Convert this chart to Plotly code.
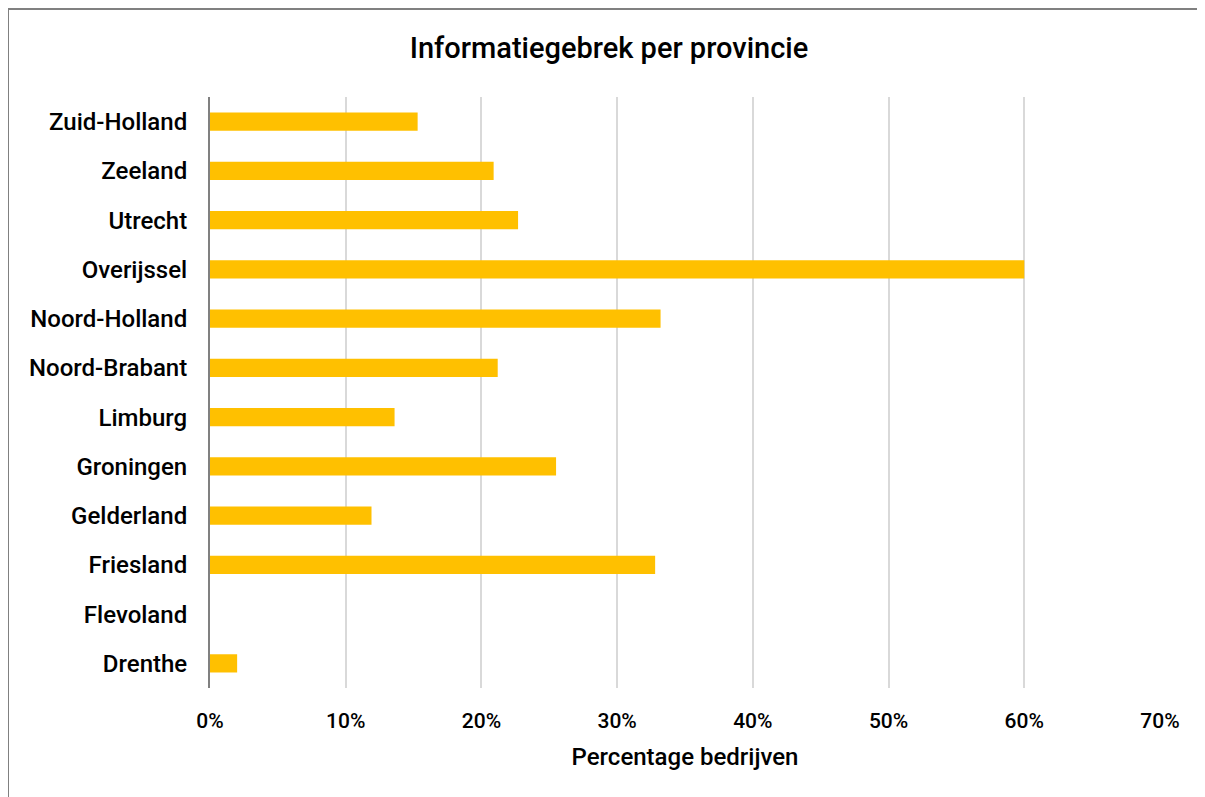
import plotly.graph_objects as go

provinces = ["Drenthe", "Flevoland", "Friesland", "Gelderland", "Groningen", "Limburg",
             "Noord-Brabant", "Noord-Holland", "Overijssel", "Utrecht", "Zeeland", "Zuid-Holland"]
percentages = [0.020, 0.0, 0.328, 0.119, 0.255, 0.136, 0.212, 0.332, 0.600, 0.227, 0.209, 0.153]
tick_vals = [0, 0.1, 0.2, 0.3, 0.4, 0.5, 0.6, 0.7]
tick_text = ["0%", "10%", "20%", "30%", "40%", "50%", "60%", "70%"]

W, H = 1205, 797
# page body has an 8px offset, so margins are set relative to that
L, R, T, B = 202, 53, 89, 117
FONT = "Roboto"

fig = go.Figure(go.Bar(
    y=provinces, x=percentages, orientation="h",
    marker=dict(color="#FFC000", line=dict(width=0)),
    width=0.37,
))

fig.update_layout(
    width=W, height=H,
    margin=dict(l=L, r=R, t=T, b=B, pad=0),
    paper_bgcolor="white", plot_bgcolor="white",
    font=dict(family=FONT, color="#000000", size=22, weight=500),
    title=dict(text="Informatiegebrek per provincie", x=(609 - 8) / W, xanchor="center",
               y=1 - 40 / H, yanchor="middle",
               font=dict(family=FONT, size=29, weight=500, color="#000000")),
    showlegend=False,
)

fig.update_xaxes(
    range=[0, 0.7], tickvals=tick_vals, ticktext=tick_text,
    showgrid=True, gridcolor="#D9D9D9", gridwidth=2,
    zeroline=False, showline=False, ticks="", ticklen=0,
    ticklabelstandoff=18,
    tickfont=dict(family=FONT, size=21, weight=500, color="#000000"),
    title=dict(text="Percentage bedrijven", standoff=16,
               font=dict(family=FONT, size=24, weight=500, color="#000000")),
)
fig.update_yaxes(
    categoryorder="array", categoryarray=provinces,
    showgrid=False, zeroline=False,
    showline=True, linecolor="#808080", linewidth=2,
    ticks="", ticklen=0, ticklabelstandoff=16,
    tickfont=dict(family=FONT, size=24, weight=500, color="#000000"),
    range=[-0.5, 11.5],
)

# outer chart border (top and left visible, right/bottom beyond the view)
pw, ph = W - L - R, H - T - B
fig.add_shape(type="rect", xref="paper", yref="paper",
              x0=(0 - L) / pw, x1=(W + 20 - L) / pw,
              y0=-(H + 20 - (H - B)) / ph, y1=1 + (T - 1) / ph,
              line=dict(color="#808080", width=2), fillcolor="rgba(0,0,0,0)", layer="below")

fig.write_html("out.html")
